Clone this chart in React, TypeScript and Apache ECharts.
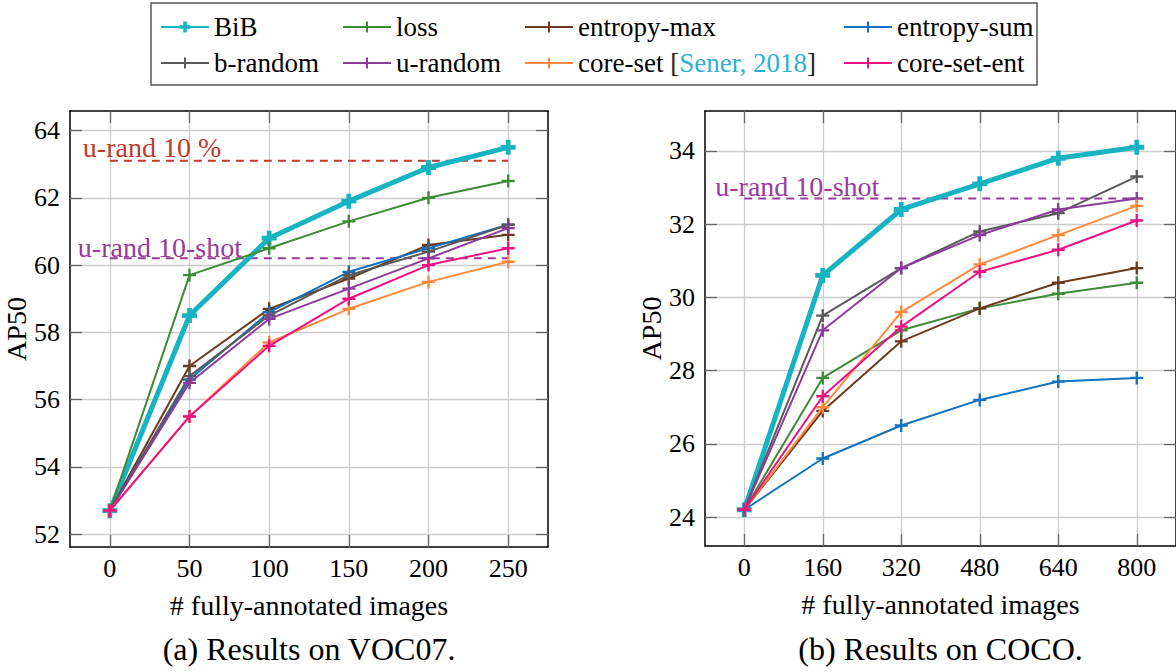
import React, { useEffect, useRef } from "react";
import * as echarts from "echarts";

// ---------- data ----------
const seriesNames = ["BiB", "loss", "entropy-max", "entropy-sum", "b-random", "u-random", "core-set", "core-set-ent"];
const seriesColors = ["#17b3c1", "#3d8a37", "#6a3b1f", "#1370bd", "#595959", "#8c3a9b", "#ff8a3d", "#ee1280"];

const vocX = [0, 50, 100, 150, 200, 250];
const vocBiB = [52.7, 58.5, 60.8, 61.9, 62.9, 63.5];
const vocLoss = [52.7, 59.7, 60.5, 61.3, 62.0, 62.5];
const vocEntropyMax = [52.7, 57.0, 58.7, 59.6, 60.6, 60.9];
const vocEntropySum = [52.7, 56.6, 58.6, 59.8, 60.5, 61.2];
const vocBRandom = [52.7, 56.7, 58.5, 59.7, 60.4, 61.2];
const vocURandom = [52.7, 56.5, 58.4, 59.3, 60.2, 61.1];
const vocCoreSet = [52.7, 55.5, 57.7, 58.7, 59.5, 60.1];
const vocCoreSetEnt = [52.7, 55.5, 57.6, 59.0, 60.0, 60.5];
const vocURand10pct = 63.1;
const vocURand10shot = 60.2;
const vocYTicks = [52, 54, 56, 58, 60, 62, 64];

const cocoX = [0, 160, 320, 480, 640, 800];
const cocoBiB = [24.2, 30.6, 32.4, 33.1, 33.8, 34.1];
const cocoLoss = [24.2, 27.8, 29.1, 29.7, 30.1, 30.4];
const cocoEntropyMax = [24.2, 26.9, 28.8, 29.7, 30.4, 30.8];
const cocoEntropySum = [24.2, 25.6, 26.5, 27.2, 27.7, 27.8];
const cocoBRandom = [24.2, 29.5, 30.8, 31.8, 32.3, 33.3];
const cocoURandom = [24.2, 29.1, 30.8, 31.7, 32.4, 32.7];
const cocoCoreSet = [24.2, 27.0, 29.6, 30.9, 31.7, 32.5];
const cocoCoreSetEnt = [24.2, 27.3, 29.2, 30.7, 31.3, 32.1];
const cocoURand10shot = 32.7;
const cocoYTicks = [24, 26, 28, 30, 32, 34];

const vocData = [vocBiB, vocLoss, vocEntropyMax, vocEntropySum, vocBRandom, vocURandom, vocCoreSet, vocCoreSetEnt];
const cocoData = [cocoBiB, cocoLoss, cocoEntropyMax, cocoEntropySum, cocoBRandom, cocoURandom, cocoCoreSet, cocoCoreSetEnt];

const xAxisTitle = "# fully-annotated images";
const yAxisTitle = "AP50";
const captionA = "(a) Results on VOC07.";
const captionB = "(b) Results on COCO.";

// ---------- style ----------
const FONT = "'Liberation Serif', 'DejaVu Serif', serif";
const RED_DASH = "#c0392b";
const PURPLE_DASH = "#983a9e";
const LINK = "#2cb1d2";
const PLUS = "path://M4.1,0H5.9V4.1H10V5.9H5.9V10H4.1V5.9H0V4.1H4.1Z";
const PLUS_BOLD = "path://M3.4,0H6.6V3.4H10V6.6H6.6V10H3.4V6.6H0V3.4H3.4Z";

function enlarged(vals: number[]) {
  const mn = Math.min(...vals);
  const mx = Math.max(...vals);
  const d = (mx - mn) * 0.1;
  return [mn - d, mx + d];
}

function buildSeries(xs: number[], data: number[][], axisIdx: number) {
  return seriesNames.map((n, i) => ({
    type: "line",
    name: n,
    xAxisIndex: axisIdx,
    yAxisIndex: axisIdx,
    data: xs.map((x, j) => [x, data[i][j]]),
    symbol: i === 0 ? PLUS_BOLD : PLUS,
    symbolSize: i === 0 ? 15 : 13,
    showAllSymbol: true,
    lineStyle: { width: i === 0 ? 5 : 2, color: seriesColors[i] },
    itemStyle: { color: seriesColors[i] },
    emphasis: { disabled: true },
    z: 3 + i,
  }));
}

function dashSeries(name: string, xs: number[], v: number, color: string, axisIdx: number) {
  return {
    type: "line",
    name,
    xAxisIndex: axisIdx,
    yAxisIndex: axisIdx,
    data: [[xs[0], v], [xs[xs.length - 1], v]],
    symbol: "none",
    lineStyle: { width: 2, color, type: [8, 6] },
    emphasis: { disabled: true },
    z: 2,
  };
}

function xAxes(xs: number[], grid: number) {
  const [mn, mx] = enlarged(xs);
  const common = {
    type: "value",
    gridIndex: grid,
    min: mn,
    max: mx,
    axisLine: { show: true, onZero: false, lineStyle: { color: "#000", width: 1.5 } },
    axisTick: { show: true, inside: true, length: 12, customValues: xs, lineStyle: { color: "#666", width: 1.3 } },
  };
  return [
    {
      ...common,
      position: "bottom",
      axisLabel: { customValues: xs, fontSize: 26, fontFamily: FONT, color: "#000", margin: 8 },
      splitLine: { show: true, lineStyle: { color: "#cccccc", width: 1.3 } },
      name: xAxisTitle,
      nameLocation: "middle",
      nameGap: 44,
      nameTextStyle: { fontSize: 28, fontFamily: FONT, color: "#000" },
    },
    {
      ...common,
      position: "top",
      axisLabel: { show: false },
      splitLine: { show: false },
    },
  ];
}

function yAxes(vals: number[][], ticks: number[], grid: number) {
  const [mn, mx] = enlarged(vals.flat());
  const common = {
    type: "value",
    gridIndex: grid,
    min: mn,
    max: mx,
    axisLine: { show: true, onZero: false, lineStyle: { color: "#000", width: 1.5 } },
    axisTick: { show: true, inside: true, length: 12, customValues: ticks, lineStyle: { color: "#666", width: 1.3 } },
  };
  return [
    {
      ...common,
      position: "left",
      axisLabel: { customValues: ticks, fontSize: 26, fontFamily: FONT, color: "#000", margin: 10 },
      splitLine: { show: true, lineStyle: { color: "#cccccc", width: 1.3 } },
      name: yAxisTitle,
      nameLocation: "middle",
      nameGap: 34,
      nameTextStyle: { fontSize: 28, fontFamily: FONT, color: "#000" },
    },
    {
      ...common,
      position: "right",
      axisLabel: { show: false },
      splitLine: { show: false },
    },
  ];
}

const legendCols = [160, 342, 524, 843];

export default function App() {
  const ref = useRef<HTMLDivElement>(null);

  useEffect(() => {
    document.body.style.margin = "0";
    if (!ref.current) return;
    const chart = echarts.init(ref.current, undefined, { renderer: "svg" });

    const richBase = { fontSize: 27, fontFamily: FONT, lineHeight: 30 };
    const legends = legendCols.map((left, c) => ({
      orient: "vertical",
      left,
      top: 12,
      padding: 0,
      itemWidth: 48,
      itemHeight: 14,
      itemGap: 6,
      selectedMode: false,
      data: [seriesNames[c], seriesNames[c + 4]],
      textStyle: {
        ...richBase,
        color: "#000",
        rich: {
          br: { ...richBase, color: "#222" },
          link: { ...richBase, color: LINK },
          t: { ...richBase, color: "#000" },
        },
      },
      formatter: (name: string) => (name === "core-set" ? "{t|core-set }{br|[}{link|Sener, 2018}{br|]}" : name),
    }));

    const option: any = {
      animation: false,
      textStyle: { fontFamily: FONT },
      legend: legends,
      grid: [
        { left: 70, top: 111, width: 478, height: 436, containLabel: false },
        { left: 705, top: 111, width: 477, height: 435, containLabel: false },
      ],
      xAxis: [...xAxes(vocX, 0), ...xAxes(cocoX, 1)],
      yAxis: [...yAxes(vocData, vocYTicks, 0), ...yAxes(cocoData, cocoYTicks, 1)],
      series: [
        dashSeries("u-rand 10 %", vocX, vocURand10pct, RED_DASH, 0),
        dashSeries("u-rand 10-shot", vocX, vocURand10shot, PURPLE_DASH, 0),
        ...buildSeries(vocX, vocData, 0),
        dashSeries("u-rand 10-shot (COCO)", cocoX, cocoURand10shot, PURPLE_DASH, 2),
        ...buildSeries(cocoX, cocoData, 2),
      ],
    };
    chart.setOption(option);

    const p1 = chart.convertToPixel({ xAxisIndex: 0, yAxisIndex: 0 }, [vocX[0], vocURand10pct]) as number[];
    const p2 = chart.convertToPixel({ xAxisIndex: 0, yAxisIndex: 0 }, [vocX[0], vocURand10shot]) as number[];
    const p3 = chart.convertToPixel({ xAxisIndex: 2, yAxisIndex: 2 }, [cocoX[0], cocoURand10shot]) as number[];
    const c1 = chart.convertToPixel({ xAxisIndex: 0, yAxisIndex: 0 }, [(vocX[0] + vocX[vocX.length - 1]) / 2, vocYTicks[0]]) as number[];
    const c2 = chart.convertToPixel({ xAxisIndex: 2, yAxisIndex: 2 }, [(cocoX[0] + cocoX[cocoX.length - 1]) / 2, cocoYTicks[0]]) as number[];

    const annot = (x: number, y: number, text: string, color: string) => ({
      type: "text",
      x,
      y,
      style: { text, fill: color, fontSize: 28, fontFamily: FONT, textAlign: "left", textVerticalAlign: "middle" },
      z: 20,
    });

    chart.setOption({
      graphic: [
        {
          type: "rect",
          shape: { x: 151, y: 3, width: 886, height: 82 },
          style: { fill: "none", stroke: "#555", lineWidth: 1.5 },
          z: 1,
        },
        annot(p1[0] - 27, p1[1] - 13, "u-rand 10 %", RED_DASH),
        annot(p2[0] - 32, p2[1] - 11, "u-rand 10-shot", PURPLE_DASH),
        annot(p3[0] - 29, p3[1] - 12, "u-rand 10-shot", PURPLE_DASH),
        {
          type: "text",
          x: c1[0],
          y: 649,
          style: { text: captionA, fill: "#000", fontSize: 32, fontFamily: FONT, textAlign: "center", textVerticalAlign: "middle" },
        },
        {
          type: "text",
          x: c2[0],
          y: 649,
          style: { text: captionB, fill: "#000", fontSize: 32, fontFamily: FONT, textAlign: "center", textVerticalAlign: "middle" },
        },
      ],
    });

    return () => chart.dispose();
  }, []);

  return <div ref={ref} style={{ width: 1176, height: 672 }} />;
}
